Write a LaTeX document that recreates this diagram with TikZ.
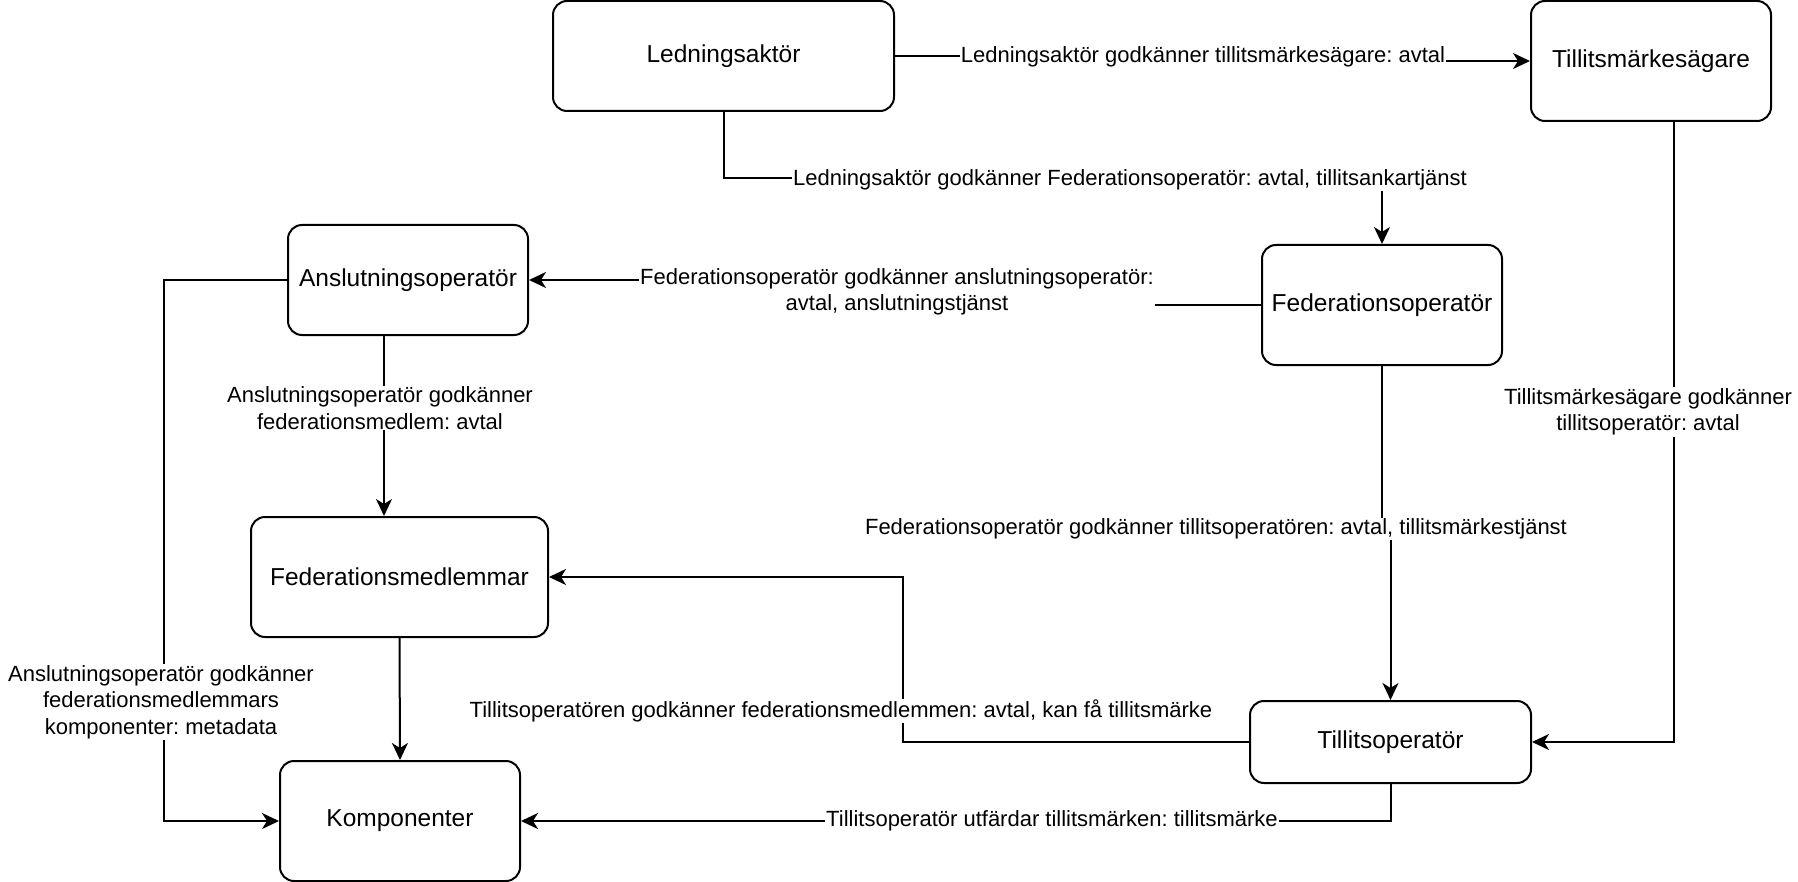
\documentclass[tikz,border=0pt]{standalone}
\usepackage{fontspec}
\setmainfont{Liberation Sans}
\usetikzlibrary{arrows.meta,calc}
\frenchspacing
\begin{document}
\begin{tikzpicture}[x=0.5pt,y=-0.5pt,
  box/.style={draw, line width=1pt, rounded corners=7pt, font=\fontsize{12.25}{14.7}\selectfont, inner sep=0pt},
  arr/.style={line width=1pt, -{Stealth[length=8.5pt,width=8pt,inset=2.5pt]}},
  lbl/.style={fill=white, inner sep=0.5pt, align=center, font=\fontsize{11}{13.3}\selectfont\frenchspacing}]
\useasboundingbox (0,0) rectangle (1798,882);
% boxes
\node[box, minimum width=170.5pt, minimum height=55pt] (La) at (723.5,56) {Ledningsaktör};
\node[box, minimum width=120pt, minimum height=60pt] (Tm) at (1651,61) {Tillitsmärkesägare};
\node[box, minimum width=120pt, minimum height=60pt] (Fo) at (1382,305) {Federationsoperatör};
\node[box, minimum width=120pt, minimum height=55pt] (Ao) at (408,280) {Anslutningsoperatör};
\node[box, minimum width=148.5pt, minimum height=60pt] (Fm) at (399.5,577) {Federationsmedlemmar};
\node[box, minimum width=120pt, minimum height=60pt] (Ko) at (400,821) {Komponenter};
\node[box, minimum width=140.5pt, minimum height=41pt] (To) at (1390.5,742) {Tillitsoperatör};
% connectors
\draw[arr] (La.east) -- (La.east -| 1203,0) -- (Tm.west -| 1203,0) -- (Tm.west);
\draw[arr] (La.south) |- (Fo.north |- 0,178) -- (Fo.north);
\draw[arr] (Fo.west) -- (Fo.west -| 897,0) -- (Ao.east -| 897,0) -- (Ao.east);
\draw[arr] (Ao.south -| 384,0) -- (Fm.north -| 384,0);
\draw[arr] (Fm.south) -- (Ko.north);
\draw[arr] (Ao.west) -| (Ko.west -| 164,0) -- (Ko.west);
\draw[arr] (Fo.south) -- (Fo.south |- 0,529) -- (To.north |- 0,529) -- (To.north);
\draw[arr] (Tm.south -| 1674,0) |- (To.east);
\draw[arr] (To.west) -| (Fm.east -| 903,0) -- (Fm.east);
\draw[arr] (To.south) |- (Ko.east);
% labels
\node[lbl] (l1) at (1203,57) {Ledningsaktör godkänner tillitsmärkesägare: avtal};
\node[lbl] (l2) at (1130,180) {Ledningsaktör godkänner Federationsoperatör: avtal, tillitsankartjänst};
\node[lbl] (l3) at (897,292) {Federationsoperatör godkänner anslutningsoperatör:\\avtal, anslutningstjänst};
\node[lbl] (l4) at (380,408) {Anslutningsoperatör godkänner\\federationsmedlem: avtal};
\node[lbl] (l6) at (161,702) {Anslutningsoperatör godkänner\\federationsmedlemmars\\komponenter: metadata};
\node[lbl] (l7) at (1216,529) {Federationsoperatör godkänner tillitsoperatören: avtal, tillitsmärkestjänst};
\node[lbl] (l8) at (1648,412) {Tillitsmärkesägare godkänner\\tillitsoperatör: avtal};
\node[lbl] (l9) at (841,711) {Tillitsoperatören godkänner federationsmedlemmen: avtal, kan få tillitsmärke};
\node[lbl] (l10) at (1052,821) {Tillitsoperatör utfärdar tillitsmärken: tillitsmärke};
\end{tikzpicture}
\end{document}
